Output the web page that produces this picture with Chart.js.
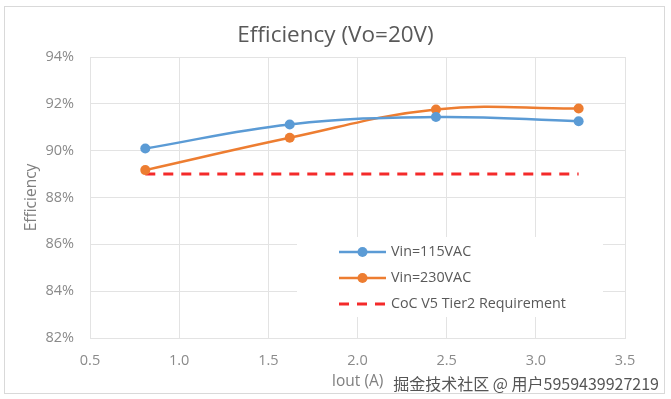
<!DOCTYPE html>
<html>
<head>
<meta charset="utf-8">
<script src="https://cdn.jsdelivr.net/npm/chart.js@4.4.1/dist/chart.umd.min.js"></script>
<style>
  html, body { margin: 0; padding: 0; background: #fff; }
  #wrap { width: 671px; height: 399px; position: relative; }
</style>
</head>
<body>
<div id="wrap"><canvas id="effChart" width="671" height="399"></canvas></div>
<script>
// data
const iout = [0.81, 1.62, 2.44, 3.24];
const vin115 = [90.09, 91.12, 91.44, 91.26];
const vin230 = [89.17, 90.55, 91.76, 91.80];
const tier2 = [89, 89, 89, 89];
const seriesNames = ['Vin=115VAC', 'Vin=230VAC', 'CoC V5 Tier2 Requirement'];
const yTicks = [82, 84, 86, 88, 90, 92, 94];
const xTicks = [0.5, 1, 1.5, 2, 2.5, 3, 3.5];
const chartTitle = 'Efficiency (Vo=20V)';
const xTitle = 'Iout (A)';
const yTitle = 'Efficiency';
const watermark = '掘金技术社区 @ 用户5959439927219';

const FONT = "'Open Sans', sans-serif";
const pts = (ys) => iout.map((x, i) => ({ x: x, y: ys[i] }));

// frame round the whole chart + watermark
const framePlugin = {
    id: 'frame',
    beforeDraw(chart) {
        const ctx = chart.ctx;
        ctx.save();
        ctx.fillStyle = '#fff';
        ctx.fillRect(0, 0, chart.width, chart.height);
        ctx.strokeStyle = '#d9d9d9';
        ctx.lineWidth = 1;
        ctx.strokeRect(4.5, 6.5, 660, 387);
        ctx.restore();
    },
    afterDraw(chart) {
        const ctx = chart.ctx;
        ctx.save();
        ctx.font = "16px 'Noto Sans CJK SC', sans-serif";
        ctx.fillStyle = '#555';
        ctx.textAlign = 'right';
        ctx.textBaseline = 'middle';
        ctx.fillText(watermark, 659, 384);
        ctx.restore();
    }
};

// excel style legend sitting inside the plot area
const boxLegend = {
    id: 'boxLegend',
    beforeDatasetsDraw(chart) {
        const ctx = chart.ctx;
        const a = chart.chartArea;
        const bx = a.left + 207, by = a.top + 180;
        ctx.save();
        ctx.fillStyle = '#fff';
        ctx.fillRect(bx, by, 306, 80);
        chart.data.datasets.forEach((ds, i) => {
            const y = by + 15 + i * 26;
            const x0 = bx + 42, x1 = bx + 89;
            ctx.strokeStyle = ds.borderColor;
            ctx.lineWidth = ds.borderWidth;
            ctx.setLineDash(ds.borderDash || []);
            ctx.beginPath();
            ctx.moveTo(x0, y);
            ctx.lineTo(x1, y);
            ctx.stroke();
            ctx.setLineDash([]);
            if (ds.pointRadius > 0) {
                ctx.fillStyle = ds.pointBackgroundColor;
                ctx.beginPath();
                ctx.arc((x0 + x1) / 2, y, ds.pointRadius, 0, Math.PI * 2);
                ctx.fill();
            }
            ctx.fillStyle = '#595959';
            ctx.font = '14.3px ' + FONT;
            ctx.textAlign = 'left';
            ctx.textBaseline = 'middle';
            ctx.fillText(ds.label, bx + 94, y);
        });
        ctx.restore();
    }
};

new Chart(document.getElementById('effChart'), {
    type: 'line',
    data: {
        datasets: [
            {
                label: seriesNames[0], data: pts(vin115),
                borderColor: '#5b9bd5', backgroundColor: '#5b9bd5', pointBackgroundColor: '#5b9bd5',
                borderWidth: 2.5, pointRadius: 5, pointBorderWidth: 0, tension: 0.4
            },
            {
                label: seriesNames[1], data: pts(vin230),
                borderColor: '#ed7d31', backgroundColor: '#ed7d31', pointBackgroundColor: '#ed7d31',
                borderWidth: 2.5, pointRadius: 5, pointBorderWidth: 0, tension: 0.4
            },
            {
                label: seriesNames[2], data: pts(tier2),
                borderColor: '#f42a2a', backgroundColor: '#f42a2a',
                borderWidth: 3, borderDash: [10, 8], pointRadius: 0, tension: 0
            }
        ]
    },
    options: {
        responsive: false,
        animation: false,
        layout: { padding: 0 },
        plugins: {
            legend: { display: false },
            tooltip: { enabled: false },
            title: {
                display: true, text: chartTitle, color: '#595959',
                font: { family: FONT, size: 22.5, weight: 'normal', lineHeight: '24px' },
                padding: { top: 24, bottom: 9 }
            }
        },
        scales: {
            x: {
                type: 'linear', min: 0.5, max: 3.5,
                afterBuildTicks: (s) => { s.ticks = xTicks.map(v => ({ value: v })); },
                afterFit: (s) => { s.height = 61; },
                grid: { color: '#e3e3e3', drawTicks: false },
                border: { color: '#e3e3e3' },
                ticks: { color: '#8a8a8a', padding: 14, font: { family: FONT, size: 14.5 }, maxRotation: 0 },
                title: {
                    display: true, text: xTitle, color: '#7f7f7f',
                    font: { family: FONT, size: 15.5, lineHeight: '16px' },
                    padding: { top: 0, bottom: 9 }
                }
            },
            y: {
                min: 82, max: 94,
                afterBuildTicks: (s) => { s.ticks = yTicks.map(v => ({ value: v })); },
                afterFit: (s) => { s.width = 90; },
                grid: { color: '#e3e3e3', drawTicks: false },
                border: { color: '#e3e3e3' },
                ticks: { color: '#8a8a8a', padding: 16, font: { family: FONT, size: 14.5 }, callback: (v) => v + '%' },
                title: {
                    display: true, text: yTitle, color: '#7f7f7f',
                    font: { family: FONT, size: 15.5, lineHeight: '16px' },
                    padding: { top: 24, bottom: 0 }
                }
            },
            // empty right-hand box, only keeps the plot off the right edge
            yRight: {
                position: 'right', min: 82, max: 94,
                afterFit: (s) => { s.width = 46; },
                grid: { display: false },
                border: { display: false },
                ticks: { display: false }
            }
        }
    },
    plugins: [framePlugin, boxLegend]
});
</script>
</body>
</html>
